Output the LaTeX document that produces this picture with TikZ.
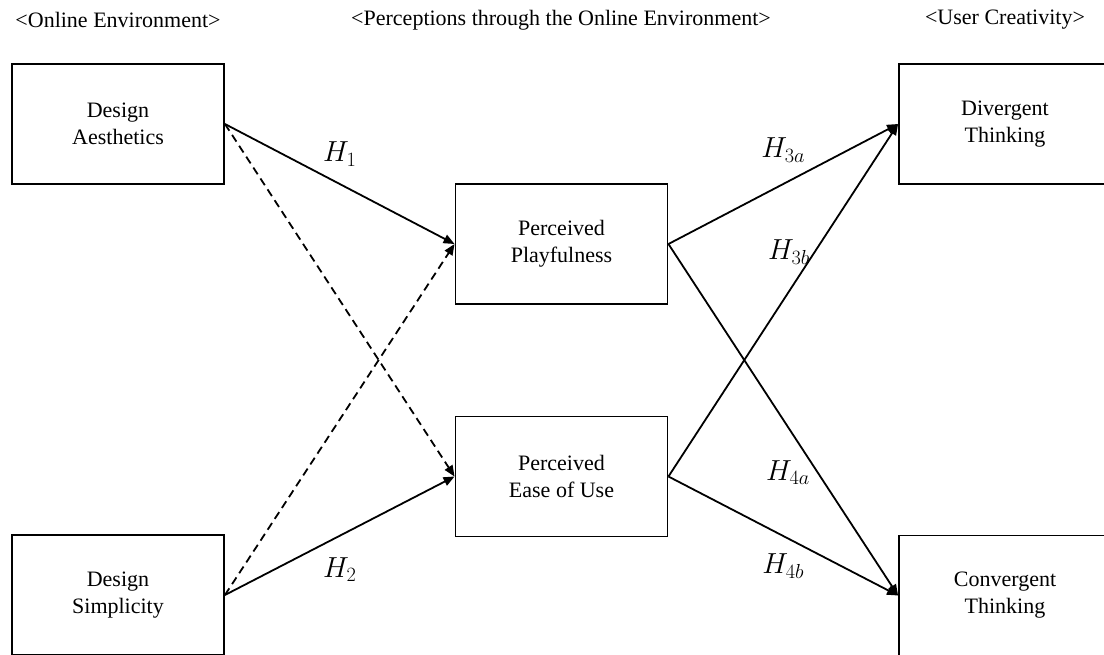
\RequirePackage{fix-cm}
\documentclass[tikz,border=0pt]{standalone}
\usepackage{fontspec}
\setmainfont{Liberation Serif}
\usetikzlibrary{arrows.meta}
\tikzset{
	block/.style={rectangle, draw, line width=1.9pt, align=center, minimum width=212pt, minimum height=120pt, inner sep=0pt},
	head/.style={align=center, inner sep=0pt},
	arr/.style={-{Triangle[length=11pt, width=9pt]}, line width=1.8pt},
	darr/.style={arr, dash pattern=on 8pt off 5pt},
	hyp/.style={inner sep=0pt, font=\fontsize{29}{34}\selectfont}
}

\begin{document}
\begin{tikzpicture}[x=1pt, y=-1pt, font=\fontsize{22}{27}\selectfont]
        \useasboundingbox (0,0) rectangle (1104,654);
        \clip (0,0) rectangle (1104,654);

        \node[head] (envhead) at (118, 20) {<Online Environment>};
        \node[head] (perchead) at (561, 20) {<Perceptions through the Online Environment>};
        \node[head] (userhead) at (1005, 20) {<User Creativity>};

        \node[block] (aes) at (118, 124) {Design\\Aesthetics};
        \node[block] (simp) at (118, 595) {Design\\Simplicity};
        \node[block] (play) at (561.5, 244) {Perceived\\Playfulness};
        \node[block] (ease) at (561.5, 476.5) {Perceived\\Ease of Use};
        \node[block] (diverg) at (1005, 124) {Divergent\\Thinking};
        \node[block] (converg) at (1005, 595.5) {Convergent\\Thinking};

        \draw[arr] (aes.east) -- node[hyp, above=17pt] {$H_1$} (play.west);
        \draw[arr] (simp.east) -- node[hyp, below=21pt] {$H_2$} (ease.west);
        \draw[darr] (aes.east) -- (ease.west);
        \draw[darr] (simp.east) -- (play.west);

        \draw[arr] (play.east) -- node[hyp, above=21pt] {$H_{3a}$} (diverg.west);
        \draw[arr] (ease.east) -- node[hyp, pos=0.637, left=4pt] {$H_{3b}$} (diverg.west);
        \draw[arr] (play.east) -- node[hyp, pos=0.65, left=7pt] {$H_{4a}$} (converg.west);
        \draw[arr] (ease.east) -- node[hyp, below=17pt] {$H_{4b}$} (converg.west);
    \end{tikzpicture}
\end{document}
